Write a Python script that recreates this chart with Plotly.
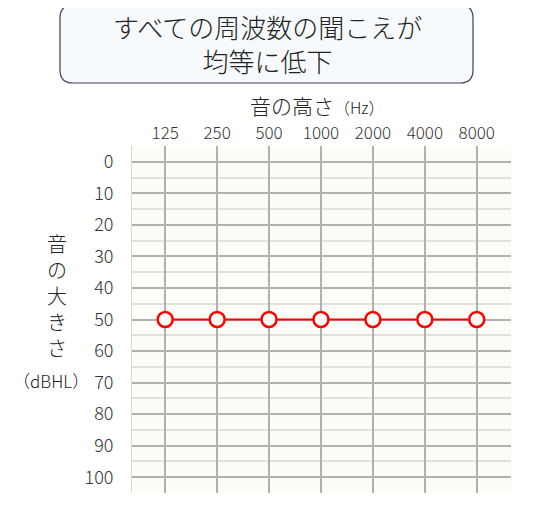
import numpy as np
import plotly.graph_objects as go

freqs = [125, 250, 500, 1000, 2000, 4000, 8000]
freq_labels = ["125", "250", "500", "1000", "2000", "4000", "8000"]
levels = [50, 50, 50, 50, 50, 50, 50]
db_ticks = [0, 10, 20, 30, 40, 50, 60, 70, 80, 90, 100]

# the page body has an 8px margin, so the figure is 8px smaller each way
OFF = 8
W, H = 538 - OFF, 514 - OFF
L, R, T, B = 132 - OFF, 27, 146 - OFF, 21
pw, ph = W - L - R, H - T - B


def px_x(x):
    return (x - OFF - L) / pw


def px_y(y):
    return (H + OFF - B - y) / ph


# rounded title box, built in paper units from pixel corners
x0, x1, y0, y1, r = 60, 473, 5, 83, 13
ax0, ax1 = px_x(x0), px_x(x1)
ay0, ay1 = px_y(y0), px_y(y1)
rx, ry = r / pw, r / ph
box = (f"M {ax0 + rx} {ay0} L {ax1 - rx} {ay0} Q {ax1} {ay0} {ax1} {ay0 - ry} "
       f"L {ax1} {ay1 + ry} Q {ax1} {ay1} {ax1 - rx} {ay1} "
       f"L {ax0 + rx} {ay1} Q {ax0} {ay1} {ax0} {ay1 + ry} "
       f"L {ax0} {ay0 - ry} Q {ax0} {ay0} {ax0 + rx} {ay0} Z")

font = "Noto Sans CJK JP, Noto Sans, sans-serif"

fig = go.Figure()
fig.add_trace(go.Scatter(
    x=freqs, y=levels, mode="lines+markers",
    line=dict(color="#ff0000", width=2),
    marker=dict(symbol="circle", size=15, color="rgba(255,253,247,1)",
                line=dict(color="#ff0000", width=2.5)),
    showlegend=False, cliponaxis=False,
))

lg = np.log10(2)
fig.update_xaxes(
    type="log", side="top",
    range=[np.log10(125) - 0.64 * lg, np.log10(8000) + 0.66 * lg],
    tickvals=freqs, ticktext=freq_labels,
    showgrid=True, gridcolor="#b0b0b0", gridwidth=1.5,
    zeroline=False, ticks="", ticklabelstandoff=3,
    tickfont=dict(family=font, size=17, color="#333", weight=300),
    fixedrange=True,
)
fig.update_yaxes(
    range=[105, -5], tickvals=db_ticks,
    showgrid=True, gridcolor="#b0b0b0", gridwidth=1.5,
    minor=dict(tickvals=[-5, 5, 15, 25, 35, 45, 55, 65, 75, 85, 95, 105],
               showgrid=True, gridcolor="#e2e0dc", gridwidth=1.5),
    showline=True, linecolor="#d8d8d8", linewidth=1,
    zeroline=False, ticks="", ticklabelstandoff=14,
    tickfont=dict(family=font, size=18, color="#333", weight=300),
    fixedrange=True,
)

fig.add_shape(type="path", path=box, xref="paper", yref="paper",
              fillcolor="#f6fafd", line=dict(color="#3a4150", width=1.2))


def label(x, y, text, size):
    fig.add_annotation(x=px_x(x), y=px_y(y), xref="paper", yref="paper",
                       xanchor="center", yanchor="middle",
                       text=text, showarrow=False,
                       font=dict(family=font, size=size, color="#222", weight=300))


label(267, 44, "すべての周波数の聞こえが<br>均等に低下", 26)
label(317, 105, "音の高さ<span style='font-size:16px'>（Hz）</span>", 21)
label(57, 295, "音<br>の<br>大<br>き<br>さ", 20)
label(51, 380, "（dBHL）", 17)

fig.update_layout(
    width=W, height=H,
    margin=dict(l=L, r=R, t=T, b=B),
    paper_bgcolor="white", plot_bgcolor="#fefcf6",
)
fig.write_html("out.html")
